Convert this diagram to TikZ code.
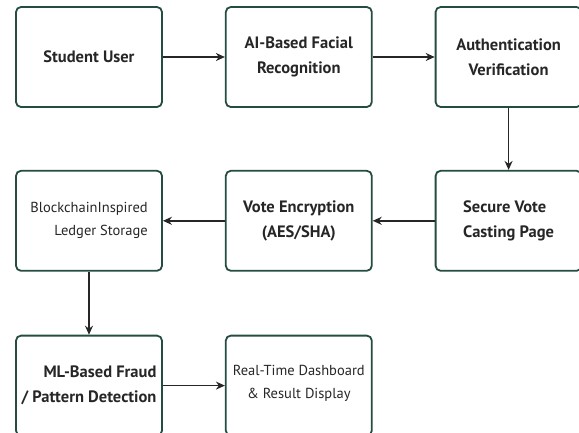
\documentclass[tikz,border=0pt]{standalone}
\usepackage{fontspec}
\setmainfont{PT Sans}
\definecolor{frame}{RGB}{36,76,66}
\definecolor{ink}{RGB}{38,38,38}
\usetikzlibrary{arrows.meta,positioning}

\begin{document}
\begin{tikzpicture}[x=1pt,y=-1pt,
    stage/.style={draw=frame,line width=1.8pt,rounded corners=5pt,
      minimum width=146pt,minimum height=100pt,inner sep=2pt,text=ink,
      align=center,font=\bfseries\fontsize{16.5}{25}\selectfont},
    thin stage/.style={stage,font=\fontsize{14.5}{23}\selectfont},
    flow/.style={-{Stealth[length=9pt,width=8pt]},ink,line width=1.5pt}]
  \useasboundingbox (0,0) rectangle (579,432);
  % top row, left to right
  \node[stage] (user) at (89,57) {Student User};
  \node[stage,right=62pt of user] (face) {AI-Based Facial\\Recognition};
  \node[stage,right=62pt of face] (auth) {Authentication\\Verification};
  % middle row, right to left
  \node[stage,below=62pt of auth,align=left] (cast) {Secure Vote\\Casting Page};
  \node[stage,left=62pt of cast] (crypt) {Vote Encryption\\(AES/SHA)};
  \node[thin stage,left=62pt of crypt,align=right] (ledger) {BlockchainInspired\\Ledger Storage};
  % bottom row
  \node[stage,below=63pt of ledger,align=right] (fraud) {ML-Based Fraud\\/ Pattern Detection};
  \node[thin stage,right=62pt of fraud,text depth=8pt] (board) {Real-Time Dashboard\\\& Result Display};
  \draw[flow] (user) -- (face);
  \draw[flow] (face) -- (auth);
  \draw[flow] (auth) -- (cast);
  \draw[flow] (cast) -- (crypt);
  \draw[flow] (crypt) -- (ledger);
  \draw[flow] (ledger) -- (fraud);
  \draw[flow] (fraud) -- (board);
\end{tikzpicture}
\end{document}
